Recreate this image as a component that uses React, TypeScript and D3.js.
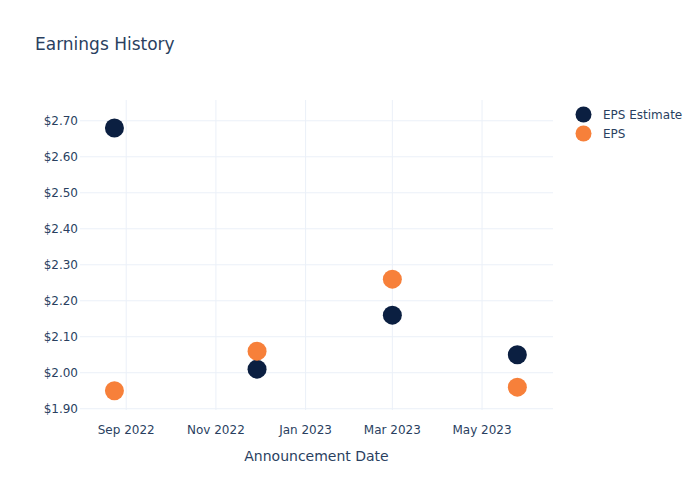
import React from "react";
import * as d3 from "d3";

const dates = ["2022-08-24", "2022-11-29", "2023-03-01", "2023-05-25"];
const estimate = [2.68, 2.01, 2.16, 2.05];
const eps = [1.95, 2.06, 2.26, 1.96];
const xTickDates = ["2022-09-01", "2022-11-01", "2023-01-01", "2023-03-01", "2023-05-01"];
const xTickLabels = ["Sep 2022", "Nov 2022", "Jan 2023", "Mar 2023", "May 2023"];
const yTicks = [1.9, 2.0, 2.1, 2.2, 2.3, 2.4, 2.5, 2.6, 2.7];

const W = 700, H = 500;
const M = { l: 80, r: 147, t: 100, b: 90 };
const FONT = '"DejaVu Sans", Verdana, sans-serif';
const TXT = "#2a3f5f";
const NAVY = "#0b1f41";
const ORANGE = "#f7803a";
const GRID = "#ebf0f8";

export default function App() {
  const x = d3.scaleUtc()
    .domain([new Date("2022-07-31T14:00:00Z"), new Date("2023-06-18T06:00:00Z")])
    .range([M.l, W - M.r]);
  const y = d3.scaleLinear().domain([1.8965, 2.7577]).range([H - M.b, M.t]);
  const fmt = d3.format("$.2f");
  const pd = (s: string) => new Date(s + "T00:00:00Z");
  return (
    <svg width={W} height={H} style={{ position: "absolute", left: 0, top: 0, background: "#fff" }} fontFamily={FONT}>
      <rect x={0} y={0} width={W} height={H} fill="#fff" />
      {xTickDates.map((d, i) => (
        <line key={"xg" + i} x1={x(pd(d))} x2={x(pd(d))} y1={M.t} y2={H - M.b} stroke={GRID} strokeWidth={1} />
      ))}
      {yTicks.map((v, i) => (
        <line key={"yg" + i} x1={M.l} x2={W - M.r} y1={y(v)} y2={y(v)} stroke={GRID} strokeWidth={1} />
      ))}
      {yTicks.map((v, i) => (
        <text key={"yl" + i} x={M.l - 2} y={y(v)} dy="0.35em" textAnchor="end" fontSize={12} fill={TXT}>{fmt(v)}</text>
      ))}
      {xTickDates.map((d, i) => (
        <text key={"xl" + i} x={x(pd(d))} y={H - M.b + 24} textAnchor="middle" fontSize={12} fill={TXT}>{xTickLabels[i]}</text>
      ))}
      <text x={(M.l + W - M.r) / 2} y={461} textAnchor="middle" fontSize={14} fill={TXT}>Announcement Date</text>
      {dates.map((d, i) => (
        <circle key={"e" + i} cx={x(pd(d))} cy={y(estimate[i])} r={9.5} fill={NAVY} />
      ))}
      {dates.map((d, i) => (
        <circle key={"p" + i} cx={x(pd(d))} cy={y(eps[i])} r={9.5} fill={ORANGE} />
      ))}
      <text x={35} y={50} fontSize={17} fill={TXT}>Earnings History</text>
      <circle cx={583.5} cy={114.5} r={8} fill={NAVY} />
      <text x={603} y={114.5} dy="0.35em" fontSize={12} fill={TXT}>EPS Estimate</text>
      <circle cx={583.5} cy={133.5} r={8} fill={ORANGE} />
      <text x={603} y={133.5} dy="0.35em" fontSize={12} fill={TXT}>EPS</text>
    </svg>
  );
}
